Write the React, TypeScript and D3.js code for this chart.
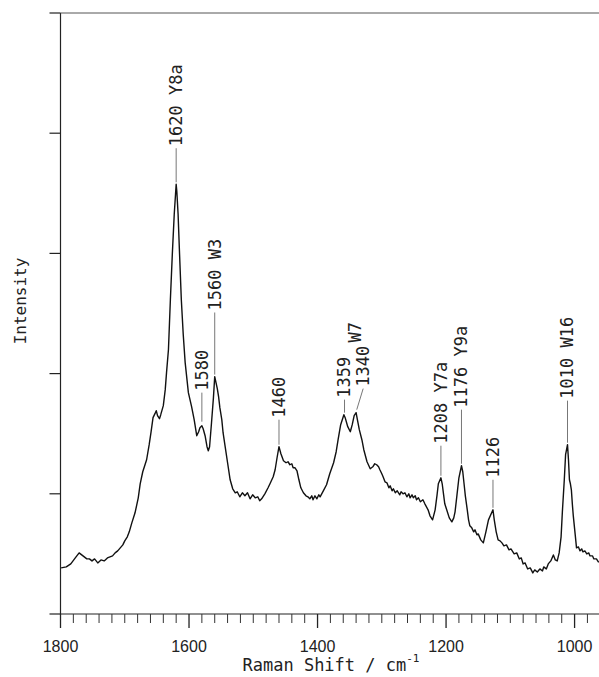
import React from "react";
import * as d3 from "d3";

// Raman spectrum: [wavenumber (cm-1), intensity (arb. units)]
const spectrum: [number, number][] = [
  [1799, 46], [1791, 47], [1784, 50], [1777, 56], [1771, 61], [1765, 58], [1759, 55], [1755, 55], [1751, 53], [1747, 55],
  [1742, 51], [1737, 54], [1732, 53], [1727, 56], [1723, 57], [1719, 58], [1715, 61], [1711, 63], [1707, 66], [1703, 69],
  [1700, 73], [1696, 77], [1693, 82], [1689, 91], [1684, 101], [1679, 116], [1676, 130], [1672, 142], [1666, 154], [1662, 169],
  [1659, 182], [1656, 196], [1653, 200], [1651, 203], [1649, 198], [1646, 195], [1644, 199], [1640, 208], [1637, 224], [1635, 241],
  [1632, 264], [1629, 314], [1626, 359], [1623, 399], [1621, 419], [1620, 429], [1619, 422], [1617, 399], [1615, 364], [1612, 314],
  [1609, 279], [1606, 251], [1601, 221], [1596, 207], [1592, 194], [1588, 178], [1585, 182], [1583, 186], [1580, 188], [1578, 185],
  [1575, 178], [1572, 167], [1570, 163], [1568, 167], [1565, 191], [1562, 216], [1560, 237], [1556, 225], [1554, 217], [1552, 206],
  [1549, 194], [1547, 181], [1544, 168], [1540, 151], [1536, 134], [1532, 125], [1528, 121], [1525, 122], [1521, 117], [1517, 121],
  [1513, 118], [1509, 121], [1505, 115], [1501, 119], [1497, 116], [1493, 117], [1490, 113], [1487, 115], [1482, 120], [1477, 126],
  [1474, 130], [1469, 137], [1466, 144], [1463, 156], [1460, 167], [1457, 160], [1453, 153], [1449, 151], [1446, 152], [1443, 149],
  [1440, 150], [1438, 146], [1435, 146], [1432, 143], [1429, 134], [1426, 126], [1422, 121], [1418, 118], [1415, 117], [1412, 115],
  [1409, 118], [1407, 114], [1404, 118], [1401, 115], [1398, 119], [1396, 117], [1391, 123], [1386, 129], [1381, 140], [1375, 151],
  [1371, 162], [1368, 174], [1364, 189], [1359, 199], [1357, 196], [1353, 187], [1349, 182], [1346, 189], [1343, 198], [1340, 201],
  [1338, 194], [1335, 184], [1331, 174], [1328, 164], [1323, 152], [1318, 145], [1314, 147], [1311, 150], [1308, 149], [1305, 147],
  [1303, 144], [1300, 140], [1298, 137], [1295, 132], [1292, 131], [1289, 126], [1287, 128], [1284, 123], [1282, 125], [1279, 121],
  [1276, 123], [1272, 119], [1270, 122], [1267, 120], [1264, 121], [1261, 117], [1258, 120], [1256, 116], [1253, 119], [1251, 116],
  [1248, 118], [1246, 114], [1243, 116], [1240, 112], [1236, 114], [1233, 110], [1228, 104], [1225, 98], [1221, 94], [1217, 104],
  [1214, 119], [1212, 130], [1208, 136], [1206, 130], [1204, 120], [1202, 110], [1199, 104], [1195, 96], [1191, 92], [1188, 96],
  [1186, 102], [1183, 119], [1180, 136], [1176, 148], [1174, 142], [1172, 130], [1170, 118], [1167, 104], [1165, 94], [1163, 88],
  [1160, 86], [1157, 82], [1155, 84], [1152, 79], [1150, 80], [1146, 74], [1142, 71], [1138, 82], [1134, 94], [1127, 104],
  [1125, 94], [1122, 82], [1119, 74], [1116, 73], [1113, 71], [1110, 68], [1106, 69], [1102, 64], [1099, 65], [1094, 60],
  [1090, 61], [1086, 55], [1083, 56], [1080, 50], [1077, 51], [1073, 45], [1069, 46], [1065, 41], [1062, 44], [1058, 42],
  [1054, 45], [1050, 43], [1048, 47], [1044, 45], [1041, 50], [1037, 53], [1033, 59], [1030, 54], [1027, 53], [1024, 61],
  [1021, 77], [1019, 102], [1016, 134], [1014, 159], [1011, 169], [1009.5, 154], [1008, 134], [1006.5, 130], [1005, 124], [1003.4, 109],
  [1002, 98], [999, 79], [997, 66], [994, 67], [991.5, 63], [989, 65], [987, 62], [984, 63], [981, 60], [978, 61],
  [976, 58], [972, 58], [970, 55], [966, 55], [963, 52], [962, 52],
];

// peak annotations
const labelTexts = ["1620 Y8a", "1580", "1560 W3", "1460", "1359", "1340", "1208 Y7a", "1176 Y9a", "1126", "1010 W16"];
const labelWn = [1620, 1580, 1560, 1460, 1358, 1329, 1208, 1176, 1127, 1011];
const labelBase = [467, 223, 303, 196, 216, 227, 170, 206, 136, 215];
const leaderWn = [1620, 1580, 1560, 1460, 1358, 1339, 1208, 1176, 1127, 1011];
const leaderEnd = [431, 192, 239, 169, 201, 204, 138, 150, 106, 171];
const groupLabel = "W7";
const groupWn = 1341;
const groupBase = 271;

const xMajorTicks = [1800, 1600, 1400, 1200, 1000];
const xMinorStep = 20;
const yTicks = [0, 120, 240, 360, 480, 600];

const W = 599;
const H = 677;
const MONO = "'DejaVu Sans Mono', 'Liberation Mono', monospace";
const SANS = "'Liberation Sans', Arial, sans-serif";

export default function App() {
  const x = d3.scaleLinear().domain([1800, 962]).range([60.5, 599]);
  const y = d3.scaleLinear().domain([0, 600]).range([614, 13]);

  const line = d3
    .line<[number, number]>()
    .x((d) => x(d[0]))
    .y((d) => y(d[1]));

  const minor = d3.range(1800, 962, -xMinorStep).filter((v) => v % 200 !== 0);
  const x0 = x(1800);
  const yBottom = y(0);
  const yTop = y(600);

  return (
    <svg
      width={W}
      height={H}
      style={{ position: "absolute", left: 0, top: 0, background: "#fff" }}
    >
      <rect x={0} y={0} width={W} height={H} fill="#fff" />
      {/* axes */}
      <line x1={x0} x2={x0} y1={yTop} y2={yBottom} stroke="#222" strokeWidth={1.2} />
      <line x1={x0} x2={W} y1={yBottom} y2={yBottom} stroke="#222" strokeWidth={1.2} />
      <line x1={x0} x2={W} y1={yTop} y2={yTop} stroke="#555" strokeWidth={1} />
      {yTicks.map((t) => (
        <line key={"yt" + t} x1={x0 - 11} x2={x0} y1={y(t)} y2={y(t)} stroke="#222" strokeWidth={1.2} />
      ))}
      {xMajorTicks.map((t) => (
        <g key={"xm" + t}>
          <line x1={x(t)} x2={x(t)} y1={yBottom} y2={yBottom + 14} stroke="#222" strokeWidth={1.3} />
          <text x={x(t)} y={652} textAnchor="middle" fontFamily={SANS} fontSize={16} fill="#222">
            {t}
          </text>
        </g>
      ))}
      {minor.map((t) => (
        <line key={"xn" + t} x1={x(t)} x2={x(t)} y1={yBottom} y2={yBottom + 9} stroke="#333" strokeWidth={1} />
      ))}
      {/* axis titles */}
      <text x={331} y={671} textAnchor="middle" fontFamily={MONO} fontSize={17} fill="#222">
        Raman Shift / cm
        <tspan dy={-9} fontSize={11}>-1</tspan>
      </text>
      <text
        transform={`translate(20, 301) rotate(-90)`}
        textAnchor="middle"
        dy="0.35em"
        fontFamily={MONO}
        fontSize={16}
        fill="#222"
      >
        Intensity
      </text>
      {/* spectrum */}
      <path d={line(spectrum) || ""} fill="none" stroke="#111" strokeWidth={1.4} strokeLinejoin="round" />
      {/* peak labels */}
      {labelTexts.map((t, i) => (
        <g key={"lb" + i}>
          <line
            x1={x(labelWn[i])}
            y1={y(labelBase[i]) + 2}
            x2={x(leaderWn[i])}
            y2={y(leaderEnd[i])}
            stroke="#777"
            strokeWidth={1}
          />
          <text
            transform={`translate(${x(labelWn[i])}, ${y(labelBase[i])}) rotate(-90)`}
            dy="0.35em"
            textAnchor="start"
            fontFamily={MONO}
            fontSize={17}
            fill="#222"
          >
            {t}
          </text>
        </g>
      ))}
      <text
        transform={`translate(${x(groupWn)}, ${y(groupBase)}) rotate(-90)`}
        dy="0.35em"
        textAnchor="start"
        fontFamily={MONO}
        fontSize={17}
        fill="#222"
      >
        {groupLabel}
      </text>
    </svg>
  );
}
